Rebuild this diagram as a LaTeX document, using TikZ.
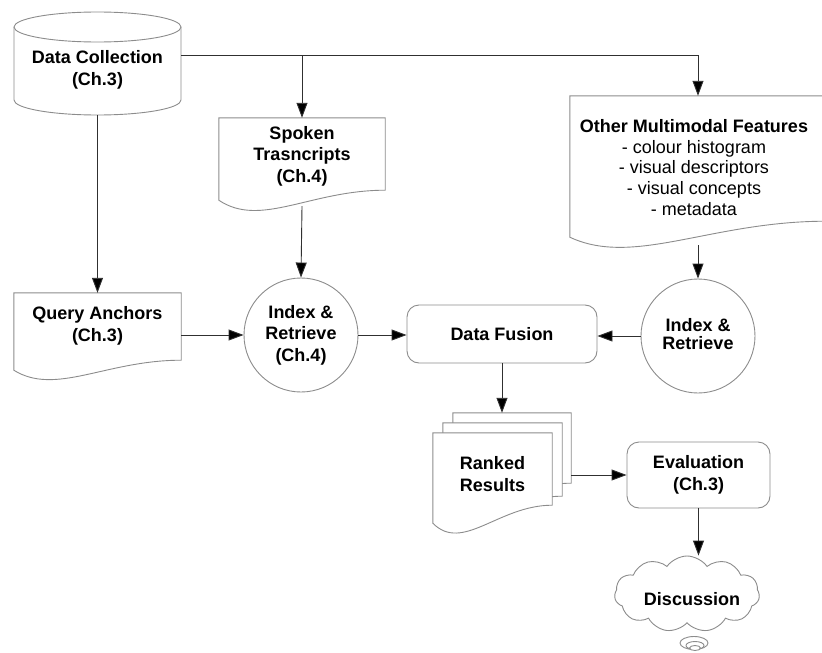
\documentclass[tikz,border=0pt]{standalone}
\usepackage{fontspec}
\setmainfont{Liberation Sans}
\usetikzlibrary{arrows.meta,calc,shapes.symbols}

\definecolor{shapegray}{HTML}{8C8C8C}
\definecolor{linegray}{HTML}{303030}

\tikzset{
  shapeline/.style={draw=shapegray, line width=0.9pt, fill=white},
  box/.style={draw=none, inner sep=0pt, align=center,
    font=\fontsize{18}{21.5}\selectfont\bfseries},
  rbox/.style={box, shapeline, rounded corners=12pt},
  circ/.style={box, shapeline, circle, minimum size=114pt},
  flow/.style={draw=linegray, line width=0.9pt,
    -{Triangle[length=15pt,width=11pt,fill=black]}},
  link/.style={draw=linegray, line width=0.9pt},
}

% document outline around a node: flat top, wavy bottom
% #1 node name, #2 rise of the right end, #3 depth of the trough
\newcommand\docout[3]{%
  \draw[shapeline] (#1.north west) -- (#1.north east) -- ([yshift=#2]#1.south east)
    .. controls ($(#1.south west)!0.55!(#1.south east)+(0pt,#2)$)
       and ($(#1.south west)!0.25!(#1.south east)+(0pt,-#3)$) .. (#1.south west) -- cycle;}

\begin{document}
\begin{tikzpicture}[x=1pt, y=-1pt]
  \useasboundingbox (0,0) rectangle (822,653);

  % data store cylinder
  \draw[shapeline] (14,27) -- (14,100) arc[start angle=180, end angle=0, x radius=83.5, y radius=15]
     -- (181,27);
  \draw[shapeline] (97.5,27) ellipse[x radius=83.5, y radius=15];
  \node[box, minimum width=167pt, minimum height=105pt] (dc) at (97.5,62.5) {};
  \node[box] at (97.5,70) {Data Collection\\(Ch.3)};

  % documents
  \node[box, minimum width=166pt, minimum height=82pt] (spk) at (302,159) {};
  \docout{spk}{10pt}{28pt}
  \node[box] at (302,156) {Spoken\\Trasncripts\\(Ch.4)};

  \node[box, minimum width=256pt, minimum height=141pt] (omf) at (698,166.5) {};
  \docout{omf}{16pt}{30pt}
  \node[box, font=\fontsize{18}{20.7}\selectfont] at (694,167.5)
    {\textbf{Other Multimodal Features}\\- colour histogram\\- visual descriptors\\- visual concepts\\- metadata};

  \node[box, minimum width=167pt, minimum height=77pt] (qa) at (97.5,331.5) {};
  \docout{qa}{10pt}{26pt}
  \node[box] at (97.5,326) {Query Anchors\\(Ch.3)};

  % retrieval circles
  \node[circ] (ir1) at (301,335) {Index \&\\Retrieve\\(Ch.4)};
  \node[circ] (ir2) at (698,336) {\raisebox{4pt}{\shortstack{Index \&\\[2pt]Retrieve}}};

  % fusion and evaluation
  \node[rbox, minimum width=190pt, minimum height=58pt] (df) at (502,334) {Data Fusion};
  \node[rbox, minimum width=143pt, minimum height=66pt] (ev) at (698.5,475) {Evaluation\\(Ch.3)};

  % stacked result documents
  \node[box, minimum width=118pt, minimum height=80pt] (rrback) at (512,453) {};
  \docout{rrback}{10pt}{24pt}
  \node[box, minimum width=119pt, minimum height=85pt] (rrmid) at (502.5,465.5) {};
  \docout{rrmid}{12pt}{26pt}
  \node[box, minimum width=119pt, minimum height=90pt] (rr) at (492.5,478) {};
  \docout{rr}{18pt}{30pt}
  \node[box] at (492.5,474) {Ranked\\Results};

  % discussion cloud with thought bubbles
  \node[box, shapeline, cloud, cloud puffs=11, cloud puff arc=110, aspect=2,
        minimum width=145pt, minimum height=76pt] (dis) at (687,594) {};
  \node[box] at (692,599) {Discussion};
  \draw[shapeline] (694,643) ellipse[x radius=14, y radius=6.5];
  \draw[shapeline] (695,645.5) ellipse[x radius=9, y radius=4];
  \draw[shapeline] (695,648) ellipse[x radius=5.5, y radius=2.5];

  % connectors
  \coordinate (j1) at (698,55);
  \draw[link] (dc.east |- j1) -- (j1);
  \draw[flow] (j1) -- (omf.north);
  \draw[flow] (spk.north |- j1) -- (spk.north);
  \draw[flow] (dc.south) -- (qa.north);
  \draw[flow] ([yshift=-6pt]spk.south) -- (ir1.north);
  \draw[flow] ([yshift=-8pt]ir2 |- omf.south) -- (ir2.north);
  \draw[flow] (qa.east |- ir1) -- (ir1.west);
  \draw[flow] (ir1.east) -- (ir1.east -| df.west);
  \draw[flow] (ir2.west) -- (ir2.west -| df.east);
  \draw[flow] (df.south) -- (df.south |- rrback.north);
  \draw[flow] (rrback.east |- ev.west) -- (ev.west);
  \draw[flow] (ev.south) -- (ev.south |- dis.north);
\end{tikzpicture}
\end{document}
